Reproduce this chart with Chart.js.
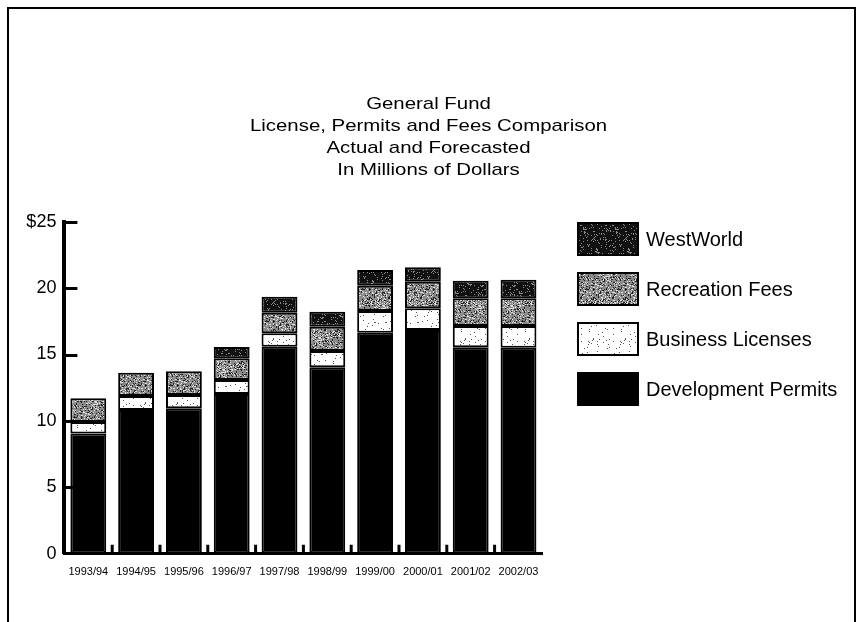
<!DOCTYPE html>
<html>
<head>
<meta charset="utf-8">
<title>General Fund - License, Permits and Fees Comparison</title>
<script src="https://cdn.jsdelivr.net/npm/chart.js@4.4.1/dist/chart.umd.min.js"></script>
<style>
  html, body { margin: 0; padding: 0; background: #fff; }
  #wrap { width: 857px; height: 622px; }
</style>
</head>
<body>
<div id="wrap"><canvas id="fundChart" width="857" height="622"></canvas></div>
<script>
// === Data (millions of dollars) ===
const categories = ['1993/94', '1994/95', '1995/96', '1996/97', '1997/98', '1998/99', '1999/00', '2000/01', '2001/02', '2002/03'];
const developmentPermits = [9.05, 10.82, 10.95, 12.03, 15.59, 14.04, 16.64, 16.84, 15.54, 15.51];
const businessLicenses = [0.87, 1.05, 1.0, 1.05, 1.01, 1.22, 1.64, 1.64, 1.61, 1.64];
const recreationFees = [1.78, 1.76, 1.78, 1.63, 1.55, 1.83, 1.9, 2.0, 2.08, 2.08];
const westWorld = [0, 0, 0, 0.85, 1.2, 1.13, 1.18, 1.09, 1.33, 1.4];
const yTicks = [0, 5, 10, 15, 20, 25];
const titleLines = ['General Fund', 'License, Permits and Fees Comparison', 'Actual and Forecasted', 'In Millions of Dollars'];

const FONT = 'Arial, "Liberation Sans", Helvetica, sans-serif';

document.addEventListener('DOMContentLoaded', () => {
    const canvas = document.getElementById('fundChart');
    const ctx = canvas.getContext('2d');

    // scanned-looking stipple fills
    const noise = (x, y, seed) => {
        const n = Math.sin(x * 12.9898 + y * 78.233 + seed * 37.719) * 43758.5453;
        return n - Math.floor(n);
    };
    const makePattern = (base, dots) => {
        const c = document.createElement('canvas');
        c.width = 32; c.height = 32;
        const g = c.getContext('2d');
        g.fillStyle = base;
        g.fillRect(0, 0, 32, 32);
        dots.forEach(([color, density, seed]) => {
            g.fillStyle = color;
            for (let y = 0; y < 32; y++) {
                for (let x = 0; x < 32; x++) {
                    if (noise(x, y, seed) < density) g.fillRect(x, y, 1, 1);
                }
            }
        });
        return ctx.createPattern(c, 'repeat');
    };

    const fills = {
        dev: '#000000',
        biz: makePattern('#ffffff', [['#555555', 0.03, 3]]),
        rec: makePattern('#8a8a8a', [['#222222', 0.22, 7], ['#e0e0e0', 0.18, 5]]),
        ww: makePattern('#111111', [['#8a8a8a', 0.16, 11]])
    };

    const barStyle = { borderColor: '#000', borderWidth: 2, borderSkipped: false, stack: 'all' };

    // page frame + white background
    const framePlugin = {
        id: 'frame',
        beforeDraw(chart) {
            const c = chart.ctx;
            c.save();
            c.fillStyle = '#fff';
            c.fillRect(0, 0, chart.width, chart.height);
            c.strokeStyle = '#000';
            c.lineWidth = 2;
            c.beginPath();
            c.moveTo(8, chart.height);
            c.lineTo(8, 8);
            c.lineTo(855, 8);
            c.lineTo(855, chart.height);
            c.stroke();
            c.restore();
        }
    };

    // four title lines, a bit wide like the scan
    const titlePlugin = {
        id: 'stretchedTitle',
        afterDraw(chart) {
            const c = chart.ctx;
            c.save();
            c.fillStyle = '#000';
            c.font = '17px ' + FONT;
            c.textAlign = 'center';
            c.textBaseline = 'alphabetic';
            titleLines.forEach((line, i) => {
                c.save();
                c.translate(428.5, 108.5 + i * 22.2);
                c.scale(1.2, 1);
                c.fillText(line, 0, 0);
                c.restore();
            });
            c.restore();
        }
    };

    // tick marks pointing into the plot
    const innerTicks = {
        id: 'innerTicks',
        afterDatasetsDraw(chart) {
            const c = chart.ctx;
            const { x, y } = chart.scales;
            const area = chart.chartArea;
            c.save();
            c.strokeStyle = '#000';
            c.lineWidth = 3;
            c.beginPath();
            yTicks.forEach(v => {
                if (v === 0) return;
                const py = Math.round(y.getPixelForValue(v)) + 0.5;
                c.moveTo(area.left, py);
                c.lineTo(area.left + 13, py);
            });
            for (let i = 0; i < categories.length - 1; i++) {
                const px = (x.getPixelForValue(i) + x.getPixelForValue(i + 1)) / 2;
                c.moveTo(px, area.bottom);
                c.lineTo(px, area.bottom - 9);
            }
            c.stroke();
            c.restore();
        }
    };

    // legend to the right, top item = top of stack
    const boxLegend = {
        id: 'boxLegend',
        afterDraw(chart) {
            const c = chart.ctx;
            const items = chart.data.datasets.slice().reverse();
            c.save();
            c.font = '20px ' + FONT;
            c.textAlign = 'left';
            c.textBaseline = 'middle';
            items.forEach((ds, i) => {
                const top = 222 + i * 50;
                c.fillStyle = ds.backgroundColor;
                c.fillRect(577, top, 62, 34);
                c.strokeStyle = '#000';
                c.lineWidth = 2;
                c.strokeRect(578, top + 1, 60, 32);
                c.fillStyle = '#000';
                c.fillText(ds.label, 646, top + 18);
            });
            c.restore();
        }
    };

    new Chart(ctx, {
        type: 'bar',
        data: {
            labels: categories,
            datasets: [
                { label: 'Development Permits', data: developmentPermits, backgroundColor: fills.dev, ...barStyle },
                { label: 'Business Licenses', data: businessLicenses, backgroundColor: fills.biz, ...barStyle },
                { label: 'Recreation Fees', data: recreationFees, backgroundColor: fills.rec, ...barStyle },
                { label: 'WestWorld', data: westWorld, backgroundColor: fills.ww, ...barStyle }
            ]
        },
        options: {
            responsive: false,
            animation: false,
            layout: { padding: { top: 221.7, right: 314.6, left: 0, bottom: 0 } },
            datasets: { bar: { categoryPercentage: 0.75, barPercentage: 1 } },
            plugins: {
                legend: { display: false },
                title: { display: false },
                tooltip: { enabled: false }
            },
            scales: {
                x: {
                    stacked: true,
                    grid: { drawOnChartArea: false, drawTicks: false },
                    border: { display: true, color: '#000', width: 3 },
                    ticks: { color: '#000', font: { family: FONT, size: 11 }, padding: 12, maxRotation: 0, autoSkip: false },
                    afterFit: (scale) => { scale.height = 68.3; }
                },
                y: {
                    stacked: true,
                    min: 0,
                    max: 25,
                    grid: { drawOnChartArea: false, drawTicks: false },
                    border: { display: true, color: '#000', width: 4 },
                    afterBuildTicks: (scale) => { scale.ticks = yTicks.map(v => ({ value: v })); },
                    ticks: {
                        color: '#000',
                        font: { family: FONT, size: 18 },
                        padding: 8,
                        callback: (v) => (v === 25 ? '$' + v : v)
                    },
                    afterFit: (scale) => { scale.width = 64.4; }
                }
            }
        },
        plugins: [framePlugin, innerTicks, titlePlugin, boxLegend]
    });
});
</script>
</body>
</html>
